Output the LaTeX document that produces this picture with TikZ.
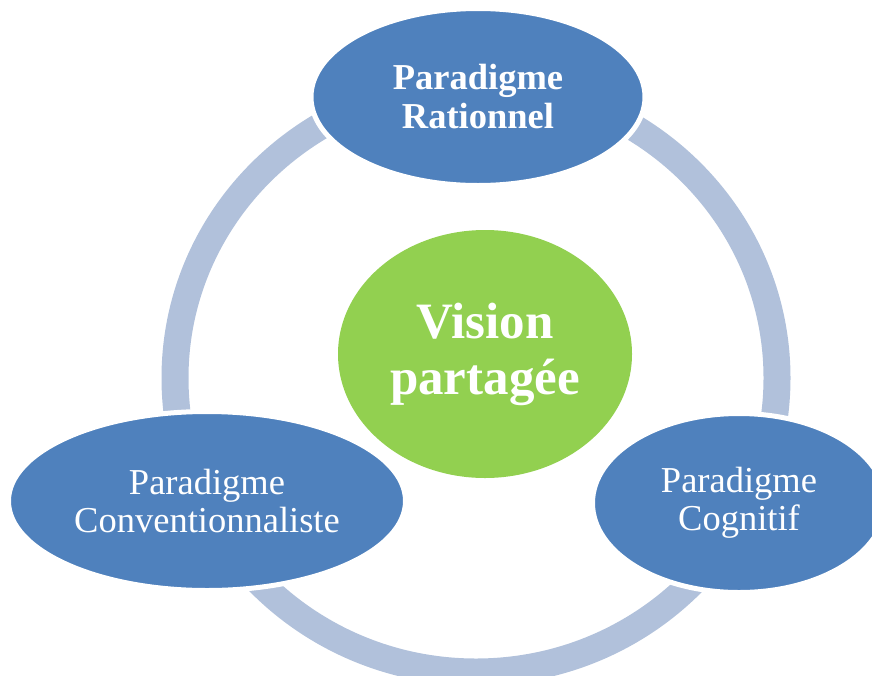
\documentclass[tikz,border=0pt]{standalone}
\usepackage{fontspec}
\setmainfont{Liberation Serif}
\usetikzlibrary{
    shapes.geometric,
    positioning
}
\definecolor{paradigmblue}{HTML}{4F81BD}
\definecolor{visiongreen}{HTML}{92D050}
\definecolor{ringblue}{HTML}{B1C1DB}
\tikzset{
    paradigmbox/.style={ellipse, fill=paradigmblue, draw=white, line width=5pt,
        text=white, align=center, inner sep=0pt, font=\fontsize{36.5}{38}\selectfont},
    visionbox/.style={ellipse, fill=visiongreen,
        text=white, align=center, inner sep=0pt, font=\fontsize{51}{56}\selectfont\bfseries}
}

\begin{document}
\begin{tikzpicture}[x=1pt, y=-1pt]
    \useasboundingbox (0, 0) rectangle (872, 675);
    \coordinate (c) at (476, 378);
    % the cycle ring
    \draw[ringblue, line width=27pt] (c) ellipse[x radius=301, y radius=294];
    \node[visionbox, minimum width=294, minimum height=248] (vision) at (485, 354) {Vision\\partagée};
    \node[paradigmbox, minimum width=334, minimum height=177, font=\fontsize{36.5}{39}\selectfont\bfseries] (rational) at (478, 97) {Paradigme\\Rationnel};
    \node[paradigmbox, minimum width=397, minimum height=179] (convention) at (207, 501) {Paradigme\\Conventionnaliste};
    \node[paradigmbox, minimum width=293, minimum height=179] (cognitive) at (739, 503) {Paradigme\\Cognitif};
\end{tikzpicture}
\end{document}
